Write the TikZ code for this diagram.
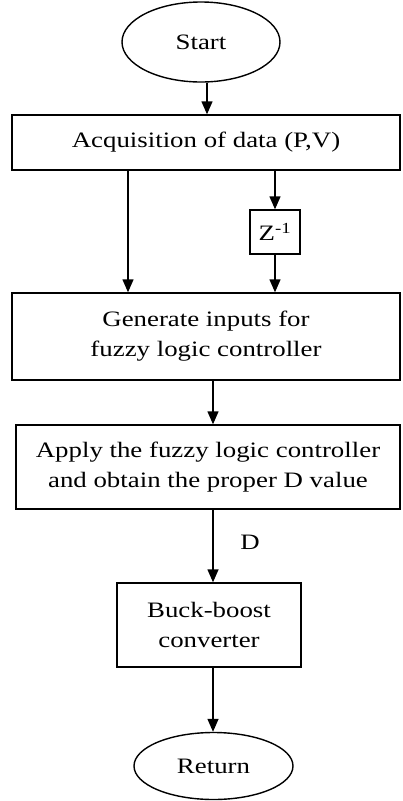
\documentclass[tikz,border=0pt]{standalone}
\usepackage{fontspec}
\setmainfont{Liberation Serif}[FakeStretch=1.22]
\usetikzlibrary{arrows.meta,shapes.geometric}
\begin{document}
\begin{tikzpicture}[x=1pt,y=-1pt,line width=1.4pt,
  txt/.style={font=\fontsize{22}{30}\selectfont},
  box/.style={draw,rectangle,inner sep=0pt,align=center,txt},
  oval/.style={draw,ellipse,inner sep=0pt,txt},
  arr/.style={-{Triangle[width=11pt,length=13pt]}}]
\useasboundingbox (0,0) rectangle (403,801);
\coordinate (lx) at (128,0);
\coordinate (mx) at (213,0);
\coordinate (sx) at (207,0);
\node[oval,minimum width=158pt,minimum height=80pt] (start) at (201,42) {Start};
\node[box,minimum width=388pt,minimum height=55pt] (acq) at (206,142.5) {Acquisition of data (P,V)};
\node[box,minimum width=50pt,minimum height=44pt] (z) at (275,232) {Z\textsuperscript{-1}};
\node[box,minimum width=388pt,minimum height=87pt] (gen) at (206,336.5) {Generate inputs for\\fuzzy logic controller};
\node[box,minimum width=384pt,minimum height=84pt] (fuz) at (208,467) {Apply the fuzzy logic controller\\and obtain the proper D value};
\node[txt] (d) at (250,542) {D};
\node[box,minimum width=184pt,minimum height=84pt] (buck) at (209,625) {Buck-boost\\converter};
\node[oval,minimum width=159pt,minimum height=67pt] (ret) at (213.5,766) {Return};
\draw[arr] (start.south -| sx) -- (acq.north -| sx);
\draw[arr] (acq.south -| lx) -- (gen.north -| lx);
\draw[arr] (acq.south -| z.north) -- (z.north);
\draw[arr] (z.south) -- (gen.north -| z.south);
\draw[arr] (gen.south -| mx) -- (fuz.north -| mx);
\draw[arr] (fuz.south -| mx) -- (buck.north -| mx);
\draw[arr] (buck.south -| mx) -- (ret.north -| mx);
\end{tikzpicture}
\end{document}
